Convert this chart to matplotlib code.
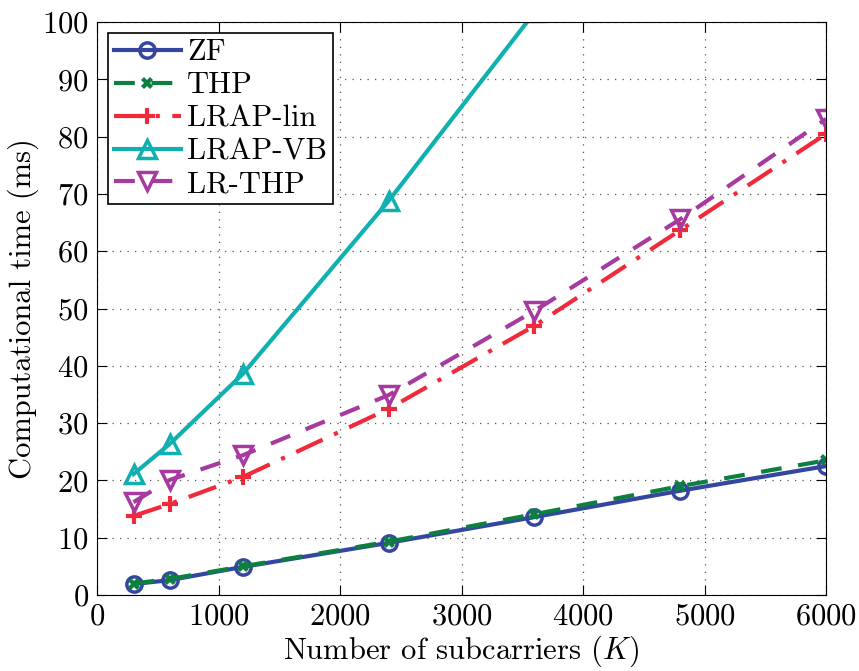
import numpy as np
import matplotlib
matplotlib.use('Agg')
import matplotlib.pyplot as plt

plt.rcParams['font.family'] = 'serif'
plt.rcParams['font.serif'] = ['cmr10', 'DejaVu Serif']
plt.rcParams['mathtext.fontset'] = 'cm'
plt.rcParams['axes.formatter.use_mathtext'] = True

K = [300, 600, 1200, 2400, 3600, 4800, 6000]
zf = [1.9, 2.6, 4.9, 9.1, 13.6, 18.2, 22.5]
thp = [2.0, 2.8, 5.0, 9.3, 14.1, 19.0, 23.5]
lrap_lin = [13.8, 15.9, 20.6, 32.5, 47.0, 63.7, 80.5]
lrap_vb = [21.1, 26.4, 38.6, 68.8, 101.7, 135.0, 170.0]
lr_thp = [16.2, 20.1, 24.4, 34.9, 49.6, 65.6, 83.1]

fig = plt.figure(figsize=(8.59, 6.71), dpi=100)
ax = fig.add_axes([0.113, 0.1133, 0.8487, 0.8537])

ax.plot(K, zf, '-', color='#3546a0', lw=3, marker='o', ms=11, mew=2.5, mfc='none', label='ZF')
ax.plot(K, thp, '--', color='#0b8040', lw=3, marker='X', ms=8, mew=0, label='THP', dashes=(5, 4))
ax.plot(K, lrap_lin, '-.', color='#f02a3a', lw=3, marker='+', ms=11, mew=3, label='LRAP-lin', dashes=(7, 3, 1, 3))
ax.plot(K, lrap_vb, '-', color='#10b0b0', lw=3, marker='^', ms=13, mew=2.5, mfc='none', label='LRAP-VB')
ax.plot(K, lr_thp, '--', color='#a63aa0', lw=3, marker='v', ms=13, mew=2.5, mfc='none', label='LR-THP', dashes=(5, 4))

ax.set_xlim(0, 6000)
ax.set_ylim(0, 100)
ax.set_xticks(np.arange(0, 6001, 1000))
ax.set_yticks(np.arange(0, 101, 10))
ax.grid(True, linestyle=(0, (1, 5)), color='#555555', lw=0.9)
ax.tick_params(direction='in', top=True, right=True, labelsize=22, length=7, pad=6)
ax.set_xlabel('Number of subcarriers ($K$)', fontsize=22, labelpad=2)
ax.set_ylabel('Computational time (ms)', fontsize=22, labelpad=2)

leg = ax.legend(loc='upper left', fontsize=22, fancybox=False, framealpha=1, edgecolor='black',
                handlelength=2.2, labelspacing=0.18, borderpad=0.2, handletextpad=0.2,
                borderaxespad=0.35)
leg.get_frame().set_linewidth(1.2)

plt.savefig('out.png', dpi=100)
